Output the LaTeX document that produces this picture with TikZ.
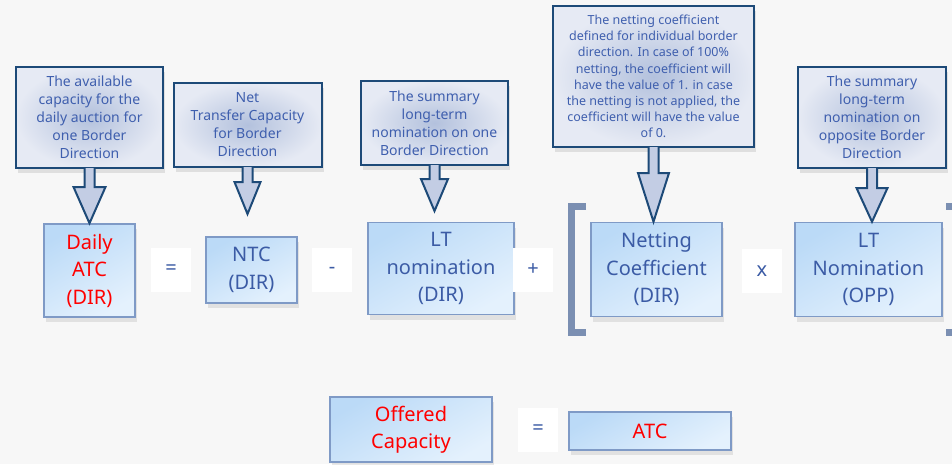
\documentclass[tikz,border=0pt]{standalone}
\usepackage{fontspec}
\setmainfont{Noto Sans}
\usetikzlibrary{calc,
                shadows}

\definecolor{boxtop}{HTML}{BBDAF7}
\definecolor{boxbot}{HTML}{E4F1FD}
\definecolor{boxline}{HTML}{7F9AC6}
\definecolor{boxtext}{HTML}{3B5BA5}
\definecolor{noteline}{HTML}{1D4A78}
\definecolor{noteinner}{HTML}{B3C1DD}
\definecolor{noteouter}{HTML}{E6EAF4}
\definecolor{notetext}{HTML}{3F5FAE}
\definecolor{tipfill}{HTML}{C3CDE4}
\definecolor{bracketcol}{HTML}{7B8FB2}
\definecolor{backcol}{HTML}{F7F7F7}

\tikzset{
  termbox/.style={draw=boxline, line width=1.5pt, top color=boxtop, bottom color=boxbot,
                  shading angle=30, text=boxtext, align=center, inner sep=0pt,
                  font=\fontsize{20}{27.5}\selectfont,
                  drop shadow={shadow xshift=2pt, shadow yshift=-5pt, opacity=0.18}},
  notebox/.style={draw=noteline, line width=2pt, inner color=noteinner, outer color=noteouter,
                  text=notetext, align=center, inner sep=0pt,
                  font=\fontsize{14}{18}\selectfont,
                  drop shadow={shadow xshift=2pt, shadow yshift=-5pt, opacity=0.2}},
  callarrow/.style={draw=noteline, line width=2pt, fill=tipfill, line join=miter},
  oper/.style={fill=white, text=boxtext, font=\fontsize{20}{24}\selectfont,
               minimum width=40pt, minimum height=44pt, inner sep=0pt},
  bracketline/.style={draw=bracketcol, line width=7pt}
}

% block arrow under a note: node, tip, stem length, half width of head
\newcommand\calltip[4]{%
  \filldraw[callarrow]
    ($(#1.south -| #2)+(-5,-1)$) -- ++(0,#3+1) -- ++(-#4+5,0) -- (#2)
    -- ($(#1.south -| #2)+(#4,#3)$) -- ++(-#4+5,0) -- ++(0,-#3-1);
}

\begin{document}
\begin{tikzpicture}[x=1pt, y=-1pt]
                \useasboundingbox (0,0) rectangle (952,464);
                \clip (0,0) rectangle (952,464);
                \fill [backcol] (0,0) rectangle (952,464);

                % terms of the formula
                \node [termbox, text=red, minimum width=91pt, minimum height=93pt] (dailyatc) at (89.5,270.5) {Daily\\ATC\\(DIR)};
                \node [oper] (eq) at (171,270) {=};
                \node [termbox, minimum width=91pt, minimum height=66pt] (ntc) at (251.5,270) {NTC\\(DIR)};
                \node [oper] (minus) at (332,270) {-};
                \node [termbox, minimum width=146pt, minimum height=92pt] (ltdir) at (441,268.5) {LT\\nomination\\(DIR)};
                \node [oper] (plus) at (533,270) {+};
                \node [termbox, minimum width=131pt, minimum height=94pt] (netcoef) at (656.5,269.5) {Netting\\Coefficient\\(DIR)};
                \node [oper] (times) at (762,271) {x};
                \node [termbox, minimum width=147pt, minimum height=94pt] (ltopp) at (868.5,269.5) {LT\\Nomination\\(OPP)};

                \draw [bracketline] (586,206.5) -- (571.5,206.5) -- (571.5,332.5) -- (586,332.5);
                \draw [bracketline] (946,206.5) -- (960.5,206.5) -- (960.5,332.5) -- (946,332.5);

                % notes
                \node [notebox, minimum width=147pt, minimum height=101pt] (c1) at (89.5,117.5) {The available\\capacity for the\\daily auction for\\one Border\\Direction};
                \node [notebox, minimum width=148pt, minimum height=84pt] (c2) at (247.5,125) {Net\\Transfer Capacity\\for Border\\Direction};
                \node [notebox, minimum width=147pt, minimum height=84pt] (c3) at (434.5,123) {The summary\\long-term\\nomination on one\\Border Direction};
                \node [notebox, font=\fontsize{12.5}{16.2}\selectfont, minimum width=201pt, minimum height=141pt] (c4) at (653.5,76.5) {The netting coefficient\\defined for individual border\\direction. In case of 100\%\\netting, the coefficient will\\have the value of 1. in case\\the netting is not applied, the\\coefficient will have the value\\of 0.};
                \node [notebox, minimum width=148pt, minimum height=101pt] (c5) at (872,117.5) {The summary\\long-term\\nomination on\\opposite Border\\Direction};

                \coordinate (ntctip) at ($(c2.south)+(0,46)$);
                \coordinate (lttip) at ($(c3.south)+(0,45)$);
                \calltip{c1}{c1.south |- dailyatc.north}{18}{16}
                \calltip{c2}{ntctip}{14}{13}
                \calltip{c3}{lttip}{13}{13.5}
                \calltip{c4}{c4.south |- netcoef.north}{25}{15.5}
                \calltip{c5}{c5.south |- ltopp.north}{19}{15.5}

                % offered capacity
                \node [termbox, text=red, minimum width=162pt, minimum height=65pt] (offered) at (411,429.5) {Offered\\Capacity};
                \node [oper] (eqb) at (538,430) {=};
                \node [termbox, text=red, minimum width=162pt, minimum height=38pt] (atc) at (650,431) {ATC};
            \end{tikzpicture}
\end{document}
